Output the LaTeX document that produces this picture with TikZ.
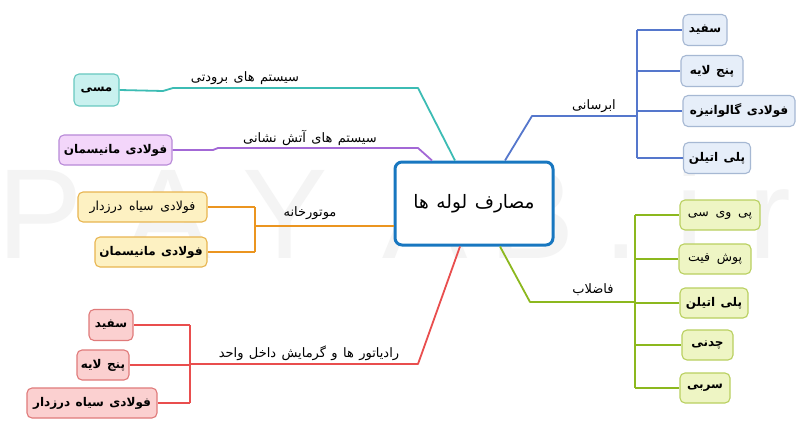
\documentclass[tikz,border=0pt]{standalone}
\usepackage{fontspec}
\setmainfont{Liberation Sans}
\newfontfamily\fa[Script=Arabic]{DejaVu Sans}
\newfontfamily\faw[Script=Arabic,WordSpace=1.3]{DejaVu Sans}
\newfontfamily\wmfont{Liberation Sans}
\TeXXeTstate=1
\newcommand\fatxt[1]{{\faw\beginR #1\endR}}
\newcommand\fabtxt[1]{{\fa\bfseries\fontsize{12}{14}\selectfont\beginR #1\endR}}
\definecolor{cblue}{HTML}{5577CC}
\definecolor{cbluef}{HTML}{E6EEF9}
\definecolor{cblued}{HTML}{A6B8D3}
\definecolor{cgreen}{HTML}{8CB81E}
\definecolor{cgreenf}{HTML}{EEF5C4}
\definecolor{cgreend}{HTML}{B9D060}
\definecolor{cteal}{HTML}{3CBCB4}
\definecolor{ctealf}{HTML}{C9F1EF}
\definecolor{cteald}{HTML}{68C8C0}
\definecolor{cpurp}{HTML}{A368D6}
\definecolor{cpurpf}{HTML}{F3D6FA}
\definecolor{cpurpd}{HTML}{B88AD8}
\definecolor{corng}{HTML}{EB9520}
\definecolor{corngf}{HTML}{FDF1C2}
\definecolor{corngd}{HTML}{E8B550}
\definecolor{cred}{HTML}{E94E4E}
\definecolor{credf}{HTML}{FBD0D0}
\definecolor{credd}{HTML}{E07A7A}
\definecolor{ccenter}{HTML}{1877C0}
\definecolor{cwm}{HTML}{F4F4F4}
\begin{document}
\begin{tikzpicture}[x=1pt,y=-1pt,
  leaf/.style={draw, rounded corners=5pt, line width=1.1pt, inner sep=0pt, align=center, font=\fontsize{12.5}{14}\selectfont},
  bluebox/.style={leaf, draw=cblued, fill=cbluef},
  greenbox/.style={leaf, draw=cgreend, fill=cgreenf},
  tealbox/.style={leaf, draw=cteald, fill=ctealf},
  purpbox/.style={leaf, draw=cpurpd, fill=cpurpf},
  orngbox/.style={leaf, draw=corngd, fill=corngf},
  redbox/.style={leaf, draw=credd, fill=credf},
  branch/.style={line width=1.8pt, line join=round},
  spoke/.style={line width=1.4pt},
  blabel/.style={inner sep=0pt, font=\fontsize{13}{15}\selectfont},
  wm/.style={text=cwm, font=\wmfont\fontsize{128}{128}\selectfont, inner sep=0pt, anchor=base}
]
\useasboundingbox[fill=white] (0,0) rectangle (800,433);
% watermark
\node[wm] (w1) at (40,258) {P};
\node[wm] (w2) at (168,258) {A};
\node[wm] (w3) at (285,258) {Y};
\node[wm] (w4) at (425,258) {A};
\node[wm] (w5) at (532,258) {B};
\node[wm] (w6) at (621,258) {.};
\node[wm] (w7) at (690,258) {i};
\node[wm] (w8) at (770,258) {r};

% center
\node[draw=ccenter, line width=3pt, fill=white, rounded corners=7pt, minimum width=158pt, minimum height=83pt,
  font=\fontsize{18.5}{21}\selectfont] (c) at (474,203.5) {\fatxt{مصارف لوله ها}};

% blue branch
\node[bluebox, minimum width=44pt, minimum height=31pt] (b1) at (705,30) {\fabtxt{سفید}};
\node[bluebox, minimum width=62pt, minimum height=31pt] (b2) at (712,71) {\fabtxt{پنج لایه}};
\node[bluebox, minimum width=112pt, minimum height=31pt] (b3) at (739,111) {\fabtxt{فولادی گالوانیزه}};
\node[bluebox, minimum width=67pt, minimum height=31pt] (b4) at (717,158) {\fabtxt{پلی اتیلن}};
\coordinate (bk) at (532,116);
\coordinate (bj) at (637,116);
\draw[cblue, branch] ([xshift=31pt]c.north) -- (bk) -- (bj);
\draw[cblue, spoke] (bj |- b1.west) -- (bj |- b4.west);
\foreach \n in {b1,b2,b3,b4} \draw[cblue, spoke] (bj |- \n.west) -- (\n.west);
\node[blabel] (lb) at (594,106) {\fatxt{ابرسانی}};

% green branch
\node[greenbox, minimum width=80pt, minimum height=30pt] (g1) at (720,215) {\fatxt{پی وی سی}};
\node[greenbox, minimum width=72pt, minimum height=30pt] (g2) at (715,259) {\fatxt{پوش فیت}};
\node[greenbox, minimum width=68pt, minimum height=30pt] (g3) at (714,303) {\fabtxt{پلی اتیلن}};
\node[greenbox, minimum width=51pt, minimum height=30pt] (g4) at (707.5,345) {\fabtxt{چدنی}};
\node[greenbox, minimum width=50pt, minimum height=30pt] (g5) at (705,388) {\fabtxt{سربی}};
\coordinate (gk) at (530,302);
\coordinate (gj) at (635,302);
\draw[cgreen, branch] ([xshift=26pt]c.south) -- (gk) -- (gj);
\draw[cgreen, spoke] (gj |- g1.west) -- (gj |- g5.west);
\foreach \n in {g1,g2,g3,g4,g5} \draw[cgreen, spoke] (gj |- \n.west) -- (\n.west);
\node[blabel] (lg) at (593,290) {\fatxt{فاضلاب}};

% teal branch
\node[tealbox, minimum width=45pt, minimum height=32pt] (t1) at (96.5,90) {\fabtxt{مسی}};
\coordinate (tk) at (418,88);
\coordinate (tj1) at (173,88);
\coordinate (tj2) at (163,91);
\draw[cteal, branch] ([xshift=-19pt]c.north) -- (tk) -- (tj1) -- (tj2) -- (t1.east);
\node[blabel] (lt) at (245,78) {\fatxt{سیستم های برودتی}};

% purple branch
\node[purpbox, minimum width=113pt, minimum height=30pt] (p1) at (115.5,150) {\fabtxt{فولادی مانیسمان}};
\coordinate (pk) at (418,148);
\coordinate (pj1) at (218,148);
\coordinate (pj2) at (213,150);
\draw[cpurp, branch] ([xshift=-42pt]c.north) -- (pk) -- (pj1) -- (pj2) -- (p1.east);
\node[blabel] (lp) at (310,138) {\fatxt{سیستم های آتش نشانی}};

% orange branch
\node[orngbox, minimum width=129pt, minimum height=30pt] (o1) at (142.5,207) {\fatxt{فولادی سیاه درزدار}};
\node[orngbox, minimum width=112pt, minimum height=30pt] (o2) at (151,252) {\fabtxt{فولادی مانیسمان}};
\coordinate (oj) at (255,226);
\draw[corng, branch] ([yshift=-22.5pt]c.west) -- (oj);
\draw[corng, spoke] (oj |- o1.east) -- (oj |- o2.east);
\foreach \n in {o1,o2} \draw[corng, spoke] (oj |- \n.east) -- (\n.east);
\node[blabel] (lo) at (310,213) {\fatxt{موتورخانه}};

% red branch
\node[redbox, minimum width=44pt, minimum height=31pt] (r1) at (111,325) {\fabtxt{سفید}};
\node[redbox, minimum width=52pt, minimum height=30pt] (r2) at (103,365) {\fabtxt{پنج لایه}};
\node[redbox, minimum width=130pt, minimum height=30pt] (r3) at (92,403) {\fabtxt{فولادی سیاه درزدار}};
\coordinate (rk) at (418,364);
\coordinate (rj) at (190,364);
\draw[cred, branch] ([xshift=-14pt]c.south) -- (rk) -- (rj);
\draw[cred, spoke] (rj |- r1.east) -- (rj |- r3.east);
\foreach \n in {r1,r2,r3} \draw[cred, spoke] (rj |- \n.east) -- (\n.east);
\node[blabel] (lr) at (309,353) {\fatxt{رادیاتور ها و گرمایش داخل واحد}};
\end{tikzpicture}
\end{document}
